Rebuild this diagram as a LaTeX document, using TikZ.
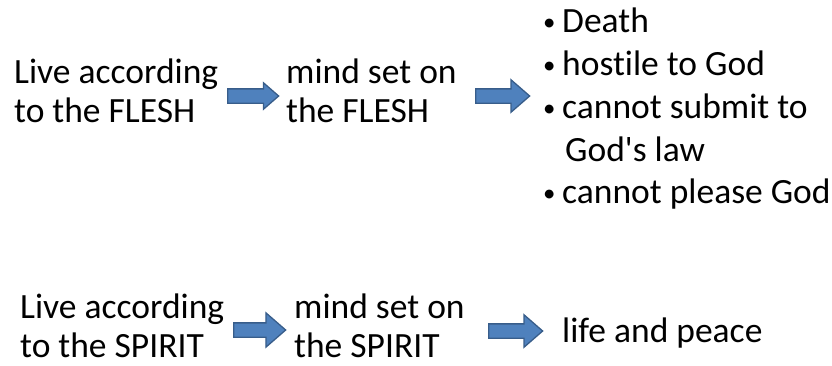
\documentclass[tikz,border=0pt]{standalone}
\usepackage{fontspec}
\setmainfont[Ligatures={NoCommon}]{Carlito}
\usetikzlibrary{shapes.arrows}
\definecolor{arrowfill}{HTML}{4F81BD}
\definecolor{arrowline}{HTML}{385D8A}
\newcommand{\mybul}{\makebox[21pt][l]{\hspace{2pt}\raisebox{2pt}{\scalebox{0.7}{•}}}}
\begin{document}
\begin{tikzpicture}[x=1pt,y=-1pt,
  txt/.style={anchor=base west, inner sep=0pt, font=\fontsize{35.5}{40}\selectfont},
  blockarrow/.style={single arrow, draw=arrowline, fill=arrowfill, line width=1.3pt,
    inner sep=0pt, text height=13pt, text depth=0pt, text width=0pt,
    single arrow tip angle=82, anchor=tail}]
\useasboundingbox (0,0) rectangle (832,365);
% top row
\node[txt] (f1a) at (14,83) {Live according};
\node[txt] (f1b) at (14,122) {to the FLESH};
\node[blockarrow, minimum height=51pt, single arrow head extend=6pt] (a1) at (227,96) {};
\node[txt] (f2a) at (286,83) {mind set on};
\node[txt] (f2b) at (286,122) {the FLESH};
\node[blockarrow, minimum height=54pt, single arrow head extend=9pt] (a2) at (475,96) {};
\node[txt] (b1) at (541,32) {\mybul Death};
\node[txt] (b2) at (541,75) {\mybul hostile to God};
\node[txt] (b3) at (541,118) {\mybul cannot submit to};
\node[txt] (b3b) at (565,161) {God\textquotesingle s law};
\node[txt] (b4) at (541,203) {\mybul cannot please God};
% bottom row
\node[txt] (s1a) at (20,318) {Live according};
\node[txt] (s1b) at (20,357) {to the SPIRIT};
\node[blockarrow, minimum height=52pt, single arrow head extend=10pt] (a3) at (233,330) {};
\node[txt] (s2a) at (294,318) {mind set on};
\node[txt] (s2b) at (294,357) {the SPIRIT};
\node[blockarrow, minimum height=54pt, single arrow head extend=9pt] (a4) at (488,331) {};
\node[txt] (s3) at (562,342) {life and peace};
\end{tikzpicture}
\end{document}
